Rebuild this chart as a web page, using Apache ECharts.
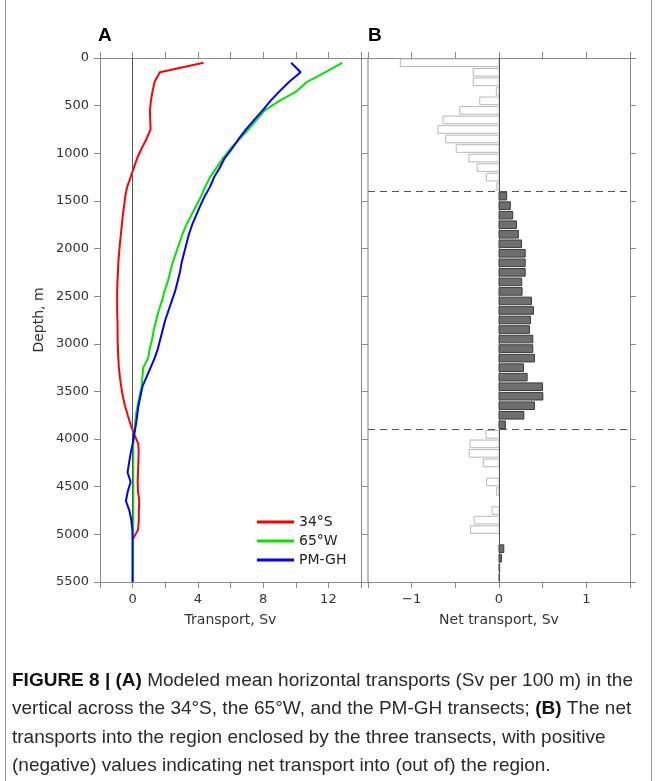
<!DOCTYPE html>
<html>
<head>
<meta charset="utf-8">
<script src="https://cdn.jsdelivr.net/npm/echarts@6/dist/echarts.min.js"></script>
<style>
  html, body { margin: 0; padding: 0; background: #fff; }
  #chart { width: 657px; height: 781px; }
</style>
</head>
<body>
<div id="chart"></div>
<script>
// depth levels (m) for the transport profiles, 100 m bins + bottom
const lineDepths = [50, 150, 250, 350, 450, 550, 650, 750, 850, 950,
  1050, 1150, 1250, 1350, 1450, 1550, 1650, 1750, 1850, 1950,
  2050, 2150, 2250, 2350, 2450, 2550, 2650, 2750, 2850, 2950,
  3050, 3150, 3250, 3350, 3450, 3550, 3650, 3750, 3850, 3950,
  4050, 4150, 4250, 4350, 4450, 4550, 4650, 4750, 4850, 4950,
  5050, 5150, 5250, 5350, 5450, 5500];

// panel A, Sv per 100 m
const s34 = [4.35, 1.67, 1.35, 1.22, 1.12, 1.06, 1.08, 1.1, 0.85, 0.55,
  0.28, 0.08, -0.12, -0.33, -0.45, -0.52, -0.6, -0.66, -0.72, -0.78,
  -0.83, -0.88, -0.9, -0.93, -0.95, -0.95, -0.95, -0.93, -0.92, -0.92,
  -0.9, -0.88, -0.84, -0.78, -0.7, -0.6, -0.47, -0.3, -0.12, 0.1,
  0.35, 0.37, 0.35, 0.33, 0.31, 0.33, 0.41, 0.38, 0.38, 0.33,
  0.02, null, null, null, null, null];
const w65 = [12.85, 11.8, 10.7, 10.05, 9.0, 8.1, 7.6, 7.1, 6.55, 6.0,
  5.55, 5.15, 4.75, 4.45, 4.2, 3.9, 3.6, 3.3, 3.05, 2.85,
  2.65, 2.45, 2.3, 2.15, 1.95, 1.8, 1.6, 1.45, 1.3, 1.2,
  1.05, 0.95, 0.65, 0.6, 0.55, 0.42, 0.3, 0.2, 0.15, 0.08,
  0.04, 0.04, 0.04, 0.04, 0.04, 0.04, 0.04, 0.04, 0.04, 0.04,
  0, 0, 0, 0, 0, 0];
const pmgh = [9.72, 10.3, 9.6, 9.0, 8.45, 7.97, 7.45, 6.95, 6.5, 6.1,
  5.65, 5.35, 5.0, 4.75, 4.42, 4.15, 3.9, 3.65, 3.45, 3.3,
  3.15, 3.0, 2.9, 2.75, 2.6, 2.4, 2.2, 2.0, 1.85, 1.7,
  1.55, 1.35, 1.1, 0.85, 0.6, 0.48, 0.36, 0.28, 0.2, 0.1,
  0.0, -0.12, -0.22, -0.31, -0.12, -0.3, -0.41, -0.2, -0.08, -0.02,
  0, 0, 0, 0, 0, 0];

// panel B, net transport per 100 m bin
const binDepths = lineDepths.slice(0, 55);
const netTransport = [-1.13, -0.295, -0.295, -0.03, -0.22, -0.45, -0.64, -0.7, -0.61, -0.49,
  -0.345, -0.25, -0.145, -0.025, 0.088, 0.13, 0.157, 0.2, 0.222, 0.257,
  0.3, 0.3, 0.3, 0.26, 0.264, 0.372, 0.395, 0.36, 0.35, 0.387,
  0.387, 0.406, 0.28, 0.322, 0.498, 0.502, 0.406, 0.284, 0.073, -0.149,
  -0.333, -0.341, -0.18, 0, -0.142, -0.027, 0, -0.08, -0.285, -0.325,
  0, 0.055, 0.028, 0.008, 0.005];
const layerBounds = [1400, 3900];

const depthTicks = [0, 5500, 500];

const font = "'DejaVu Sans', sans-serif";
const spine = '#8a8a8a';

const pairs = (xs) => xs.map((x, i) => [x, lineDepths[i]]).filter(p => p[0] !== null);

const chart = echarts.init(document.getElementById('chart'), null, { renderer: 'canvas' });

const yBase = {
  type: 'value', inverse: true,
  min: depthTicks[0], max: depthTicks[1], interval: depthTicks[2],
  splitLine: { show: false },
  axisLine: { show: true, onZero: false, lineStyle: { color: spine, width: 1 } },
  axisTick: { show: true, inside: false, length: 6, lineStyle: { color: spine } },
  axisLabel: { show: false }
};

const xTickOnly = (grid, min, max, interval) => ({
  type: 'value', gridIndex: grid, position: 'top', min: min, max: max, interval: interval,
  splitLine: { show: false },
  axisLine: { show: true, onZero: false, lineStyle: { color: spine } },
  axisTick: { show: true, inside: false, length: 6, lineStyle: { color: spine } },
  axisLabel: { show: false }
});

const captionFont = "'Liberation Sans', Arial, sans-serif";

const option = {
  backgroundColor: '#fff',
  animation: false,
  textStyle: { fontFamily: font },
  grid: [
    { left: 100, top: 58, width: 261, height: 524 },
    { left: 368, top: 58, width: 262, height: 524 }
  ],
  legend: {
    orient: 'vertical', left: 252, top: 510, itemGap: 5,
    itemWidth: 37, itemHeight: 3, icon: 'rect',
    textStyle: { fontFamily: font, fontSize: 14, color: '#222' },
    data: ['34°S', '65°W', 'PM-GH']
  },
  xAxis: [
    {
      type: 'value', gridIndex: 0, position: 'bottom', min: -2, max: 14, interval: 2,
      name: 'Transport, Sv', nameLocation: 'middle', nameGap: 31,
      nameTextStyle: { fontFamily: font, fontSize: 14, color: '#333' },
      splitLine: { show: false },
      axisLine: { show: true, onZero: false, lineStyle: { color: spine } },
      axisTick: { show: true, inside: false, length: 6, lineStyle: { color: spine } },
      axisLabel: { margin: 11, fontSize: 13, color: '#333',
        formatter: v => (v % 4 === 0 ? String(v) : '') }
    },
    xTickOnly(0, -2, 14, 2),
    {
      type: 'value', gridIndex: 1, position: 'bottom', min: -1.5, max: 1.5, interval: 0.5,
      name: 'Net transport, Sv', nameLocation: 'middle', nameGap: 31,
      nameTextStyle: { fontFamily: font, fontSize: 14, color: '#333' },
      splitLine: { show: false },
      axisLine: { show: true, onZero: false, lineStyle: { color: spine } },
      axisTick: { show: true, inside: false, length: 6, lineStyle: { color: spine } },
      axisLabel: { margin: 11, fontSize: 13, color: '#333',
        formatter: v => (Number.isInteger(v) ? (v < 0 ? '\u2212' + Math.abs(v) : String(v)) : '') }
    },
    xTickOnly(1, -1.5, 1.5, 0.5)
  ],
  yAxis: [
    Object.assign({}, yBase, {
      gridIndex: 0, position: 'left',
      name: 'Depth, m', nameLocation: 'middle', nameGap: 54, nameRotate: 90,
      nameTextStyle: { fontFamily: font, fontSize: 14, color: '#333' },
      axisLabel: { show: true, margin: 11, fontSize: 13, color: '#333', formatter: v => String(v) }
    }),
    Object.assign({}, yBase, { gridIndex: 0, position: 'right', axisTick: { show: false } }),
    Object.assign({}, yBase, { gridIndex: 1, position: 'left',
      axisLine: { show: true, onZero: false, lineStyle: { color: '#aaa', width: 1.5 } } }),
    Object.assign({}, yBase, { gridIndex: 1, position: 'right' })
  ],
  series: [
    {
      name: '34°S', type: 'line', xAxisIndex: 0, yAxisIndex: 0,
      data: pairs(s34), showSymbol: false, symbol: 'none', z: 4,
      lineStyle: { color: '#ff0000', width: 2 }, itemStyle: { color: '#ff0000' },
      markLine: {
        silent: true, symbol: 'none', label: { show: false },
        lineStyle: { color: '#555', width: 1, type: 'solid' },
        data: [{ xAxis: 0 }]
      }
    },
    {
      name: '65°W', type: 'line', xAxisIndex: 0, yAxisIndex: 0,
      data: pairs(w65), showSymbol: false, symbol: 'none', z: 3,
      lineStyle: { color: '#00e600', width: 2 }, itemStyle: { color: '#00e600' }
    },
    {
      name: 'PM-GH', type: 'line', xAxisIndex: 0, yAxisIndex: 0,
      data: pairs(pmgh), showSymbol: false, symbol: 'none', z: 5,
      lineStyle: { color: '#0000ff', width: 2 }, itemStyle: { color: '#0000ff' }
    },
    {
      name: 'net', type: 'custom', xAxisIndex: 2, yAxisIndex: 2,
      data: netTransport.map((v, i) => [v, binDepths[i]]),
      encode: { x: 0, y: 1 },
      renderItem: function (params, api) {
        const v = api.value(0);
        const d = api.value(1);
        if (!v) return null;
        const a = api.coord([0, d - 40]);
        const b = api.coord([v, d + 40]);
        const pos = v > 0;
        return {
          type: 'rect',
          shape: { x: Math.min(a[0], b[0]), y: a[1], width: Math.abs(b[0] - a[0]), height: b[1] - a[1] },
          style: pos ? { fill: '#6e6e6e', stroke: '#3a3a3a', lineWidth: 1 }
                     : { fill: '#fff', stroke: '#b8b8b8', lineWidth: 1 }
        };
      },
      markLine: {
        silent: true, symbol: 'none', label: { show: false },
        data: [
          { xAxis: 0, lineStyle: { color: '#555', width: 1, type: 'solid' } },
          { yAxis: layerBounds[0], lineStyle: { color: '#555', width: 1, type: [7, 5] } },
          { yAxis: layerBounds[1], lineStyle: { color: '#555', width: 1, type: [7, 5] } }
        ]
      }
    }
  ],
  graphic: [
    { type: 'line', shape: { x1: 5.5, y1: 0, x2: 5.5, y2: 781 }, style: { stroke: '#999', lineWidth: 1 } },
    { type: 'line', shape: { x1: 651.5, y1: 0, x2: 651.5, y2: 781 }, style: { stroke: '#999', lineWidth: 1 } },
    { type: 'text', left: 98, top: 26, style: { text: 'A', font: "bold 19px 'Liberation Sans', Arial, sans-serif", fill: '#000' } },
    { type: 'text', left: 368, top: 26, style: { text: 'B', font: "bold 19px 'Liberation Sans', Arial, sans-serif", fill: '#000' } },
    {
      type: 'group', left: 12, top: 671,
      children: [
        '{b|FIGURE 8 | (A)} Modeled mean horizontal transports (Sv per 100 m) in the',
        'vertical across the 34°S, the 65°W, and the PM-GH transects; {b|(B)} The net',
        'transports into the region enclosed by the three transects, with positive',
        '(negative) values indicating net transport into (out of) the region.'
      ].map((t, i) => ({
        type: 'text', x: 0, y: i * 28.5,
        style: {
          text: t,
          font: '19px ' + captionFont,
          fill: '#2a2a2a',
          rich: { b: { font: 'bold 19px ' + captionFont, fill: '#111' } }
        }
      }))
    }
  ]
};

chart.setOption(option);
</script>
</body>
</html>
